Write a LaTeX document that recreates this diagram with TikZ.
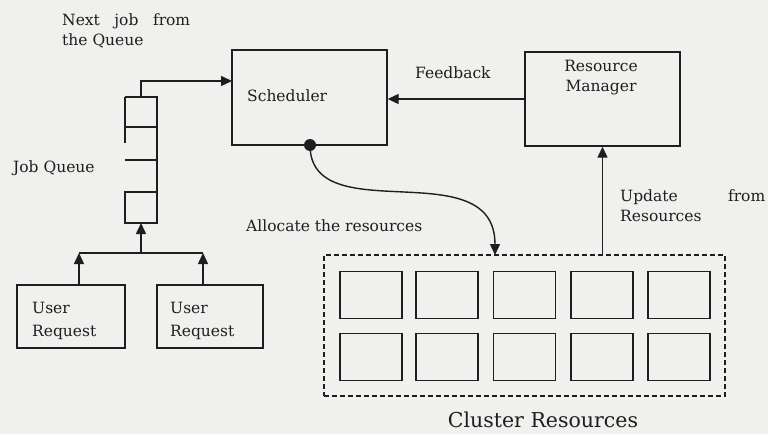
\documentclass[tikz,border=0pt]{standalone}
\usepackage{fontspec}
\setmainfont{DejaVu Serif}
\usetikzlibrary{arrows.meta}
\definecolor{bg}{RGB}{240,240,238}
\definecolor{ink}{RGB}{30,30,30}
\begin{document}
\begin{tikzpicture}[x=1pt,y=-1pt,
  box/.style={draw=ink, line width=1.4pt, inner sep=0pt},
  cell/.style={draw=ink, line width=1.5pt, inner sep=0pt, minimum width=62pt, minimum height=47pt},
  arr/.style={draw=ink, line width=1.4pt, -{Triangle[length=11pt,width=10pt]}},
  ln/.style={draw=ink, line width=1.4pt},
  txt/.style={font=\fontsize{15.5}{20}\selectfont, text=ink, inner sep=0pt, anchor=west, align=left}]
\fill[bg] (0,0) rectangle (768,434);
\useasboundingbox (0,0) rectangle (768,434);

% main boxes
\node[box, minimum width=155pt, minimum height=95pt] (sched) at (309.5,97.5) {};
\node[txt] (schedt) at (247,96) {Scheduler};
\node[box, minimum width=155pt, minimum height=94pt] (rm) at (602.5,99) {};
\node[txt, anchor=north, align=center] (rmt) at (601,60) {Resource\\Manager};

% user requests
\node[box, minimum width=108pt, minimum height=63pt] (u1) at (71,316.5) {};
\node[txt, font=\fontsize{15.5}{23}\selectfont] (u1t) at (32,321) {User\\Request};
\node[box, minimum width=106pt, minimum height=63pt] (u2) at (210,316.5) {};
\node[txt, font=\fontsize{15.5}{23}\selectfont] (u2t) at (170,321) {User\\Request};

% job queue
\coordinate (qtop) at (141,97);
\coordinate (qbot) at (141,223);
\draw[ln] (125,97) -- (157,97) -- (157,223) -- (125,223) -- (125,192) -- (157,192);
\draw[ln] (125,97) -- (125,143);
\draw[ln] (125,127) -- (157,127);
\draw[ln] (125,160) -- (157,160);
\node[txt] (jq) at (13,168) {Job Queue};
\node[txt] (nj) at (62,31) {\makebox[128pt][s]{Next\hfill job\hfill from}\\the Queue};

% cluster
\node[draw=ink, dashed, dash pattern=on 5pt off 3pt, line width=1.3pt, minimum width=401pt, minimum height=141pt, inner sep=0pt] (cl) at (524.5,325.5) {};
\foreach \c/\x in {1/371,2/447,3/524.5,4/602,5/679}{
  \node[cell] (ra\c) at (\x,295) {};
  \node[cell] (rb\c) at (\x,357) {};
}
\node[font=\fontsize{20.5}{24}\selectfont, text=ink, inner sep=0pt] (clt) at (543,420) {Cluster Resources};

% connectors
\coordinate (sin) at (232,81);
\draw[arr] (qtop) -- (141,81) -- (sin);
\draw[arr] (rm.west) -- (sched.east |- rm.west);
\node[txt] (fb) at (415,73) {Feedback};
\draw[arr] (cl.north -| rm.south) -- (rm.south);
\node[txt] (up) at (620,206) {\makebox[145pt][s]{Update\hfill from}\\Resources};

\coordinate (dot) at (310,145);
\coordinate (clin) at (495,255);
\fill[ink] (dot) circle (6pt);
\draw[arr] (dot) .. controls (310,232) and (495,150) .. (clin);
\node[txt] (al) at (246,226) {Allocate the resources};

\coordinate (j) at (141,253);
\coordinate (a1) at (79,253);
\coordinate (a2) at (203,253);
\draw[ln] (a1) -- (a2);
\draw[arr] (j) -- (qbot);
\draw[arr] (u1.north -| a1) -- (a1);
\draw[arr] (u2.north -| a2) -- (a2);
\end{tikzpicture}
\end{document}
